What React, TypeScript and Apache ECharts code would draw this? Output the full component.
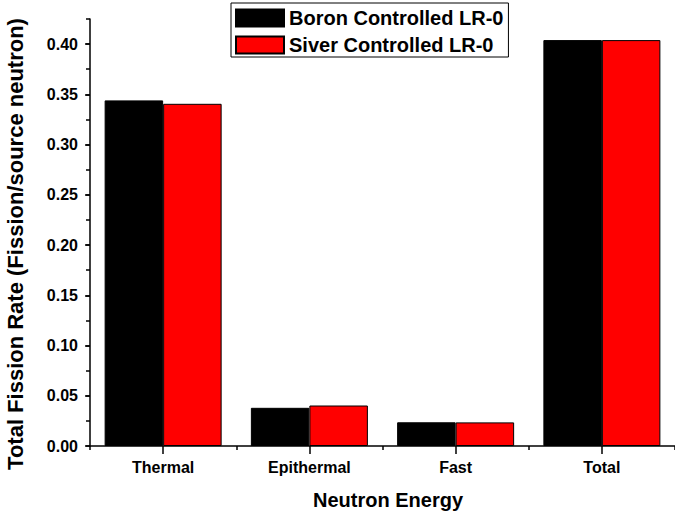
import React, { useEffect, useRef } from "react";
import * as echarts from "echarts";

const categories = ["Thermal", "Epithermal", "Fast", "Total"];
const boronValues = [0.344, 0.038, 0.0236, 0.404];
const silverValues = [0.3406, 0.0403, 0.0235, 0.404];
const seriesNames = ["Boron Controlled LR-0", "Siver Controlled LR-0"];
const yAxisTitle = "Total Fission Rate (Fission/source neutron)";
const xAxisTitle = "Neutron Energy";
const yMin = 0;
const yMax = 0.425;
const yMajorStep = 0.05;
const yMinorStep = 0.025;

const FONT = "Arial, 'Liberation Sans', sans-serif";

export default function App() {
  const ref = useRef<HTMLDivElement>(null);
  useEffect(() => {
    if (!ref.current) return;
    const chart = echarts.init(ref.current, undefined, { renderer: "svg" });
    chart.setOption({
      animation: false,
      backgroundColor: "#ffffff",
      textStyle: { fontFamily: FONT },
      grid: { left: 90, top: 19, width: 594, height: 427, containLabel: false },
      legend: {
        orient: "vertical",
        left: 231,
        top: 3,
        itemWidth: 48,
        itemHeight: 17,
        itemGap: 7,
        padding: [5, 5, 2, 4],
        borderColor: "#000",
        borderWidth: 1,
        backgroundColor: "#fff",
        icon: "rect",
        textStyle: { fontFamily: FONT, fontWeight: "bold", fontSize: 20, lineHeight: 20, color: "#000" },
        data: seriesNames,
      },
      graphic: [
        {
          type: "text",
          x: 15,
          y: 244,
          rotation: Math.PI / 2,
          style: {
            text: yAxisTitle,
            fontFamily: FONT,
            fontWeight: "bold",
            fontSize: 22,
            fill: "#000",
            textAlign: "center",
            textVerticalAlign: "middle",
          },
        },
        {
          type: "text",
          x: 388,
          y: 500,
          style: {
            text: xAxisTitle,
            fontFamily: FONT,
            fontWeight: "bold",
            fontSize: 20,
            fill: "#000",
            textAlign: "center",
            textVerticalAlign: "middle",
          },
        },
      ],
      xAxis: [
        {
          type: "category",
          data: categories,
          position: "bottom",
          axisLine: { show: true, lineStyle: { color: "#000", width: 1.5 } },
          axisTick: { show: true, alignWithLabel: true, length: 8, lineStyle: { color: "#000", width: 1.5 } },
          axisLabel: { fontFamily: FONT, fontWeight: "bold", fontSize: 16, color: "#000", margin: 13 },
          splitLine: { show: false },
        },
        {
          type: "category",
          data: categories,
          position: "bottom",
          axisLine: { show: false },
          axisTick: { show: true, length: 4, lineStyle: { color: "#000", width: 1.5 } },
          axisLabel: { show: false },
          splitLine: { show: false },
        },
      ],
      yAxis: [
        {
          type: "value",
          min: yMin,
          max: yMax,
          interval: yMajorStep,
          axisLine: { show: true, lineStyle: { color: "#000", width: 1.5 } },
          axisTick: { show: true, length: 5, lineStyle: { color: "#000", width: 1.5 } },
          axisLabel: {
            fontFamily: FONT,
            fontWeight: "bold",
            fontSize: 16,
            color: "#000",
            margin: 12,
            showMaxLabel: false,
            formatter: (v: number) => v.toFixed(2),
          },
          splitLine: { show: false },
        },
        {
          type: "value",
          min: yMin,
          max: yMax,
          interval: yMinorStep,
          position: "left",
          axisLine: { show: false },
          axisTick: { show: true, length: 4, lineStyle: { color: "#000", width: 1.5 } },
          axisLabel: { show: false },
          splitLine: { show: false },
        },
      ],
      series: [
        {
          name: seriesNames[0],
          type: "bar",
          data: boronValues,
          barGap: "0%",
          barCategoryGap: "20%",
          itemStyle: { color: "#000000", borderColor: "#000", borderWidth: 1 },
        },
        {
          name: seriesNames[1],
          type: "bar",
          data: silverValues,
          barGap: "0%",
          barCategoryGap: "20%",
          itemStyle: { color: "#ff0000", borderColor: "#000", borderWidth: 1 },
        },
      ],
    });
    return () => chart.dispose();
  }, []);
  return (
    <div
      ref={ref}
      style={{ position: "fixed", left: 0, top: 0, width: 675, height: 515, background: "#fff" }}
    />
  );
}
